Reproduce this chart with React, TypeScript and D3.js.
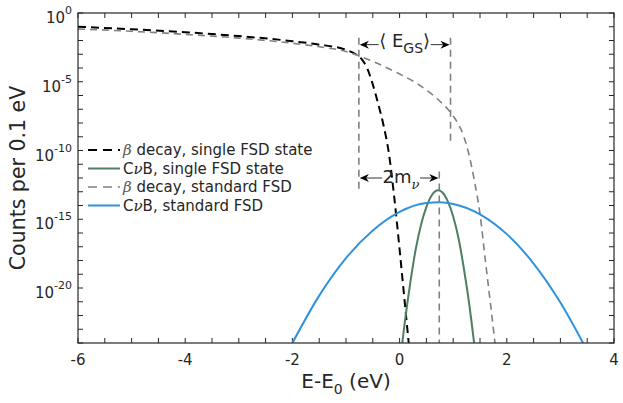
import * as d3 from "d3";

// beta decay spectrum, single final-state (FSD) level
const energyBetaSingle = [-6, -5, -4, -3, -2, -1.5, -1, -0.8, -0.7, -0.6, -0.5, -0.4, -0.3, -0.2, -0.1, 0, 0.1, 0.17];
const countsBetaSingle = [1.0e-1, 6.6e-2, 4.0e-2, 2.1e-2, 8.9e-3, 5.0e-3, 2.1e-3, 8.9e-4, 4.0e-4, 8.7e-5, 6.3e-6, 2.5e-7, 6.9e-9, 6.3e-11, 4.0e-14, 6.3e-18, 6.3e-22, 1.0e-24];

// CνB capture, single FSD state
const energyCnbSingle = [0.05, 0.1, 0.2, 0.3, 0.4, 0.5, 0.6, 0.72, 0.8, 0.9, 1.0, 1.1, 1.2, 1.3, 1.39];
const countsCnbSingle = [1.0e-24, 4.0e-23, 2.5e-20, 6.3e-18, 4.0e-16, 7.9e-15, 5.6e-14, 1.3e-13, 8.9e-14, 2.0e-14, 1.6e-15, 4.0e-17, 2.5e-19, 6.3e-22, 1.0e-24];

// beta decay spectrum, standard FSD
const energyBetaStandard = [-6, -5, -4, -3, -2, -1.5, -1, -0.7, -0.5, 0, 0.3, 0.5, 0.65, 0.8, 0.9, 1.0, 1.1, 1.2, 1.3, 1.4, 1.5, 1.6, 1.7, 1.78];
const countsBetaStandard = [6.9e-2, 4.7e-2, 2.8e-2, 1.5e-2, 6.3e-3, 3.5e-3, 1.6e-3, 6.3e-4, 3.0e-4, 3.7e-5, 8.5e-6, 2.5e-6, 8.9e-7, 2.5e-7, 1.0e-7, 3.2e-8, 7.9e-9, 1.0e-9, 4.0e-11, 5.0e-13, 2.5e-15, 1.0e-18, 5.0e-22, 1.0e-24];

// CνB capture, standard FSD
const energyCnbStandard = [-2, -1.5, -1, -0.5, 0, 0.5, 0.75, 1, 1.5, 2, 2.5, 3, 3.43];
const countsCnbStandard = [1.0e-24, 2.8e-21, 1.5e-18, 1.5e-16, 3.4e-15, 1.5e-14, 1.7e-14, 1.3e-14, 2.3e-15, 8.3e-17, 6.0e-19, 8.7e-22, 8.9e-25];

const xTickValues = [-6, -4, -2, 0, 2, 4];
const xTickLabels = ["-6", "-4", "-2", "0", "2", "4"];
const yTickExponents = [0, -5, -10, -15, -20];

// annotation anchors (energy)
const egsLeft = -0.76;
const egsRight = 0.95;
const mnuRight = 0.74;

const width = 623;
const height = 403;
const plot = { left: 78, right: 614, top: 13, bottom: 343 };
const font = "DejaVu Sans";
const ink = "#262626";

const x = d3.scaleLinear().domain([-6, 4]).range([plot.left, plot.right]);
const y = d3.scaleLog().domain([1e-24, 1]).range([plot.bottom, plot.top]);

type Pt = [number, number];
const zipPts = (e: number[], c: number[]): Pt[] => e.map((v, i) => [v, c[i]]);
const line = d3
  .line<Pt>()
  .x((d) => x(d[0]))
  .y((d) => y(d[1]))
  .curve(d3.curveMonotoneX);

const series = [
  { label: "decay, single FSD state", beta: true, pts: zipPts(energyBetaSingle, countsBetaSingle), color: "#000000", w: 2, dash: "8,5" },
  { label: "B, single FSD state", beta: false, pts: zipPts(energyCnbSingle, countsCnbSingle), color: "#4f7f62", w: 2, dash: "" },
  { label: "decay, standard FSD", beta: true, pts: zipPts(energyBetaStandard, countsBetaStandard), color: "#808080", w: 1.6, dash: "7,5" },
  { label: "B, standard FSD", beta: false, pts: zipPts(energyCnbStandard, countsCnbStandard), color: "#2e92dd", w: 2, dash: "" },
];

function head(px: number, py: number, dir: 1 | -1) {
  const l = 9 * dir;
  return `M${px},${py} L${px - l},${py - 4} L${px - l * 0.7},${py} L${px - l},${py + 4} Z`;
}

function DoubleArrow({ x0, x1, py, half, cx }: { x0: number; x1: number; py: number; half: number; cx: number }) {
  return (
    <g>
      <line x1={x0 + 2} x2={cx - half} y1={py} y2={py} stroke="#333" strokeWidth={1} />
      <line x1={cx + half} x2={x1 - 2} y1={py} y2={py} stroke="#333" strokeWidth={1} />
      <path d={head(x0 + 1, py, -1)} fill="#000" />
      <path d={head(x1 - 1, py, 1)} fill="#000" />
    </g>
  );
}

export default function App() {
  const minorX = d3.range(-6, 4.001, 0.5);
  const minorY = d3.range(-24, 0.5, 1).map((e) => Math.pow(10, e));
  const tick = 5;

  const xl = x(egsLeft);
  const xr = x(egsRight);
  const xm = x(mnuRight);
  const yEgs = y(5e-3);
  const yMnu = y(1e-12);

  return (
    <svg width={width} height={height} style={{ position: "absolute", left: 0, top: 0, background: "#fff" }} fontFamily={font}>
      <defs>
        <clipPath id="plotClip">
          <rect x={plot.left} y={plot.top} width={plot.right - plot.left} height={plot.bottom - plot.top} />
        </clipPath>
      </defs>

      {/* ticks on all four sides */}
      <g stroke={ink} strokeWidth={1}>
        {minorX.map((v) => (
          <g key={"xt" + v}>
            <line x1={x(v)} x2={x(v)} y1={plot.bottom} y2={plot.bottom - tick} />
            <line x1={x(v)} x2={x(v)} y1={plot.top} y2={plot.top + tick} />
          </g>
        ))}
        {minorY.map((v, i) => (
          <g key={"yt" + i}>
            <line x1={plot.left} x2={plot.left + tick} y1={y(v)} y2={y(v)} />
            <line x1={plot.right} x2={plot.right - tick} y1={y(v)} y2={y(v)} />
          </g>
        ))}
      </g>

      {/* annotation guides */}
      <g stroke="#808080" strokeWidth={1.6} strokeDasharray="7,5">
        <line x1={xl} x2={xl} y1={y(1.6e-2)} y2={y(8e-14)} />
        <line x1={xr} x2={xr} y1={y(1.6e-2)} y2={y(2.5e-10)} />
        <line x1={xm} x2={xm} y1={y(3e-12)} y2={plot.bottom} />
      </g>

      <g clipPath="url(#plotClip)" fill="none">
        {series.map((s) => (
          <path key={s.label + s.color} d={line(s.pts) ?? ""} stroke={s.color} strokeWidth={s.w} strokeDasharray={s.dash || undefined} />
        ))}
      </g>

      {/* <E_GS> arrow */}
      <DoubleArrow x0={xl} x1={xr} py={yEgs} half={26} cx={(xl + xr) / 2} />
      <text x={(xl + xr) / 2} y={yEgs + 2} textAnchor="middle" fill={ink} fontSize={18}>
        ⟨ E<tspan fontSize={14} dy={6}>GS</tspan>
        <tspan dy={-6}>⟩</tspan>
      </text>

      {/* 2 m_nu arrow */}
      <DoubleArrow x0={xl} x1={xm} py={yMnu} half={19} cx={(xl + xm) / 2 + 2} />
      <text x={(xl + xm) / 2 + 2} y={yMnu + 5} textAnchor="middle" fill={ink} fontSize={18}>
        2m
        <tspan fontSize={13} dy={6} fontFamily="DejaVu Serif" fontStyle="italic">
          ν
        </tspan>
      </text>

      {/* legend */}
      {series.map((s, i) => {
        const ly = 150 + i * 18.5;
        return (
          <g key={"lg" + i}>
            <line x1={88} x2={120} y1={ly} y2={ly} stroke={s.color} strokeWidth={s.w} strokeDasharray={s.dash ? "9,6" : undefined} />
            <text x={123} y={ly + 5} fontSize={15} fill={ink}>
              {s.beta ? (
                <>
                  <tspan fontFamily="DejaVu Serif" fontStyle="italic" fill="#555">
                    β
                  </tspan>{" "}
                  {s.label}
                </>
              ) : (
                <>
                  C
                  <tspan fontFamily="DejaVu Serif" fontStyle="italic">
                    ν
                  </tspan>
                  {s.label}
                </>
              )}
            </text>
          </g>
        );
      })}

      {/* axis box */}
      <rect x={plot.left} y={plot.top} width={plot.right - plot.left} height={plot.bottom - plot.top} fill="none" stroke={ink} strokeWidth={1.2} />

      {/* tick labels */}
      {xTickValues.map((v, i) => (
        <text key={"xl" + v} x={x(v)} y={365} textAnchor="middle" fontSize={15} fill={ink}>
          {xTickLabels[i]}
        </text>
      ))}
      {yTickExponents.map((e) => (
        <text key={"yl" + e} x={72} y={y(Math.pow(10, e)) + 10} textAnchor="end" fontSize={15} fill={ink}>
          10
          <tspan fontSize={11} dy={-9}>
            {e}
          </tspan>
        </text>
      ))}

      {/* axis titles */}
      <text x={(plot.left + plot.right) / 2} y={388} textAnchor="middle" fontSize={20} fill={ink}>
        E-E<tspan fontSize={14} dy={6}>0</tspan>
        <tspan dy={-6}> (eV)</tspan>
      </text>
      <text transform={`translate(25, ${(plot.top + plot.bottom) / 2}) rotate(-90)`} textAnchor="middle" fontSize={20.5} fill={ink}>
        Counts per 0.1 eV
      </text>
    </svg>
  );
}
